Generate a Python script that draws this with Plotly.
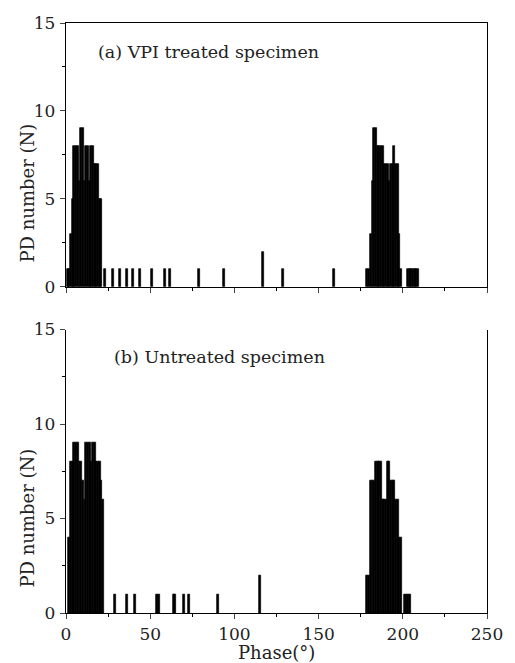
import plotly.graph_objects as go

# ---- data (phase in degrees, PD count) ----
phase_a = [1, 2, 3, 4, 5, 6, 7, 8, 9, 10, 11, 12, 13, 14, 15, 16, 17, 18, 19, 20, 21,
           23, 28, 32, 36, 40, 44, 51, 59, 62, 79, 94, 117, 129, 159,
           179, 180, 181, 182, 183, 184, 185, 186, 187, 188, 189, 190, 191, 192, 193,
           194, 195, 196, 197, 198, 199,
           203, 204, 205, 206, 207, 208, 209]
count_a = [1, 1, 3, 5, 8, 8, 8, 6, 9, 9, 6, 8, 8, 6, 8, 8, 7, 7, 7, 5, 5,
           1, 1, 1, 1, 1, 1, 1, 1, 1, 1, 1, 2, 1, 1,
           1, 1, 3, 6, 9, 9, 8, 8, 8, 8, 7, 7, 7, 6, 7,
           7, 8, 7, 7, 3, 1,
           1, 1, 1, 1, 1, 1, 1]

phase_b = [2, 3, 4, 5, 6, 7, 8, 9, 10, 11, 12, 13, 14, 15, 16, 17, 18, 19, 20, 21, 22,
           29, 36, 41, 54, 55, 64, 65, 70, 73, 90, 115,
           179, 180, 181, 182, 183, 184, 185, 186, 187, 188, 189, 190, 191, 192, 193,
           194, 195, 196, 197, 198, 199,
           201, 202, 203, 204]
count_b = [4, 8, 8, 9, 9, 9, 8, 8, 7, 6, 9, 9, 9, 8, 9, 9, 8, 8, 8, 7, 6,
           1, 1, 1, 1, 1, 1, 1, 1, 1, 1, 2,
           2, 2, 7, 7, 7, 8, 8, 8, 8, 6, 6, 6, 8, 8, 7,
           7, 7, 6, 6, 4, 4,
           1, 1, 1, 1]

label_a = "(a) VPI treated specimen"
label_b = "(b) Untreated specimen"
y_title = "PD number (N)"
x_title = "Phase(°)"
x_ticks = [0, 50, 100, 150, 200, 250]
y_ticks = [0, 5, 10, 15]

FONT = "DejaVu Serif"
TXT = "#222"

fig = go.Figure()
bar_style = dict(color="black", line=dict(width=0.7, color="black"))
fig.add_trace(go.Bar(x=phase_a, y=count_a, width=1.15, marker=bar_style,
                     xaxis="x", yaxis="y", showlegend=False))
fig.add_trace(go.Bar(x=phase_b, y=count_b, width=1.15, marker=bar_style,
                     xaxis="x2", yaxis="y2", showlegend=False))

common_x = dict(range=[0, 250], tickvals=x_ticks, ticks="outside", ticklen=5, tickwidth=1,
                showline=True, linecolor="black", linewidth=1.3, showgrid=False, zeroline=False,
                minor=dict(dtick=25, tick0=0, ticks="outside", ticklen=3, tickcolor="black"),
                tickfont=dict(family=FONT, size=17, color=TXT), ticklabelstandoff=0)
common_y = dict(range=[0, 15], tickvals=y_ticks, ticks="outside", ticklen=5, tickwidth=1,
                showline=True, linecolor="black", linewidth=1.3, showgrid=False, zeroline=False,
                minor=dict(dtick=2.5, tick0=0, ticks="outside", ticklen=3, tickcolor="black"),
                tickfont=dict(family=FONT, size=17, color=TXT), ticklabelstandoff=1)

fig.update_layout(
    width=515, height=663,
    margin=dict(l=66, r=22, t=23, b=50),
    plot_bgcolor="white", paper_bgcolor="white",
    bargap=0,
    xaxis=dict(common_x, domain=[0, 1], anchor="y", showticklabels=False, mirror=True),
    yaxis=dict(common_y, domain=[0.553, 1], anchor="x", mirror=True),
    xaxis2=dict(common_x, domain=[0, 1], anchor="y2", mirror=False),
    yaxis2=dict(common_y, domain=[0, 0.4805], anchor="x2", mirror=True),
    annotations=[
        dict(text=label_a, xref="paper", yref="paper", x=(96 - 66) / 427, y=(613 - 51.7) / 590,
             xanchor="left", yanchor="middle", showarrow=False,
             font=dict(family=FONT, size=17.5, color=TXT)),
        dict(text=label_b, xref="paper", yref="paper", x=(113 - 66) / 427, y=(613 - 357) / 590,
             xanchor="left", yanchor="middle", showarrow=False,
             font=dict(family=FONT, size=17.5, color=TXT)),
        dict(text=y_title, xref="paper", yref="paper", x=-40 / 427, y=(613 - 193) / 590,
             xanchor="center", yanchor="middle", textangle=-90, showarrow=False,
             font=dict(family=FONT, size=18, color=TXT)),
        dict(text=y_title, xref="paper", yref="paper", x=-40 / 427, y=(613 - 518) / 590,
             xanchor="center", yanchor="middle", textangle=-90, showarrow=False,
             font=dict(family=FONT, size=18, color=TXT)),
        dict(text=x_title, xref="paper", yref="paper", x=0.499, y=(613 - 652) / 590,
             xanchor="center", yanchor="middle", showarrow=False,
             font=dict(family=FONT, size=18, color=TXT)),
    ],
)

fig.write_html("out.html")
